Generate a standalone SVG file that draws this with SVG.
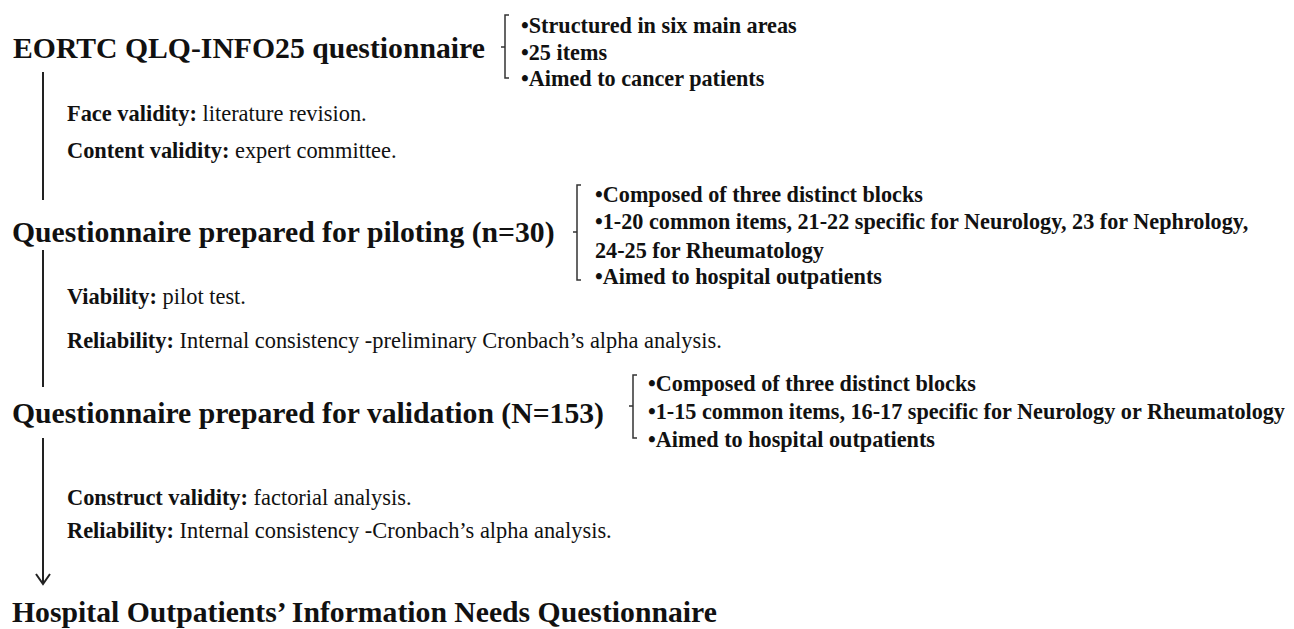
<svg xmlns="http://www.w3.org/2000/svg" width="1294" height="629" viewBox="0 0 1294 629">
<style>
.title{font-family:"Liberation Serif","Times New Roman",serif;font-weight:bold;font-size:29.7px;fill:#111}
.step{font-family:"Liberation Serif","Times New Roman",serif;font-size:22.4px;fill:#111}
.step .b{font-weight:bold}
.bul{font-family:"Liberation Serif","Times New Roman",serif;font-weight:bold;font-size:22.2px;fill:#111}
.br{fill:none;stroke:#333;stroke-width:1.5}
.flow{fill:none;stroke:#222;stroke-width:2}
</style>
<defs>
<marker id="arr" markerWidth="16" markerHeight="16" refX="14" refY="8" orient="auto" markerUnits="userSpaceOnUse" viewBox="0 0 16 16">
<path d="M4,1 L14,8 L4,15" fill="none" stroke="#222" stroke-width="2"/>
</marker>
</defs>
<g id="connectors">
<line class="flow" x1="43" y1="72" x2="43" y2="200"/>
<line class="flow" x1="43" y1="250" x2="43" y2="387"/>
<line class="flow" x1="43" y1="438" x2="43" y2="584" marker-end="url(#arr)"/>
</g>
<g id="node-eortc">
<text class="title" x="13" y="58">EORTC QLQ-INFO25 questionnaire</text>
<path class="br" d="M509,15 H505 V78 H509 M505,47 H501"/>
<text class="bul" x="521" y="33">•Structured in six main areas</text>
<text class="bul" x="521" y="60">•25 items</text>
<text class="bul" x="521" y="86">•Aimed to cancer patients</text>
</g>
<g id="step-1">
<text class="step" x="67" y="121"><tspan class="b">Face validity:</tspan> literature revision.</text>
<text class="step" x="67" y="158"><tspan class="b">Content validity:</tspan> expert committee.</text>
</g>
<g id="node-piloting">
<text class="title" x="12" y="242">Questionnaire prepared for piloting (n=30)</text>
<path class="br" d="M581,185 H577 V280 H581 M577,232 H573"/>
<text class="bul" x="595" y="202">•Composed of three distinct blocks</text>
<text class="bul" x="595" y="229">•1-20 common items, 21-22 specific for Neurology, 23 for Nephrology,</text>
<text class="bul" x="595" y="258">24-25 for Rheumatology</text>
<text class="bul" x="595" y="284">•Aimed to hospital outpatients</text>
</g>
<g id="step-2">
<text class="step" x="67" y="304"><tspan class="b">Viability:</tspan> pilot test.</text>
<text class="step" x="67" y="348"><tspan class="b">Reliability:</tspan> Internal consistency -preliminary Cronbach’s alpha analysis.</text>
</g>
<g id="node-validation">
<text class="title" x="12" y="423">Questionnaire prepared for validation (N=153)</text>
<path class="br" d="M637,375 H633 V438 H637 M633,406 H629"/>
<text class="bul" x="648" y="391">•Composed of three distinct blocks</text>
<text class="bul" x="648" y="419">•1-15 common items, 16-17 specific for Neurology or Rheumatology</text>
<text class="bul" x="648" y="447">•Aimed to hospital outpatients</text>
</g>
<g id="step-3">
<text class="step" x="67" y="505"><tspan class="b">Construct validity:</tspan> factorial analysis.</text>
<text class="step" x="67" y="538"><tspan class="b">Reliability:</tspan> Internal consistency -Cronbach’s alpha analysis.</text>
</g>
<g id="node-final">
<text class="title" x="12" y="622">Hospital Outpatients’ Information Needs Questionnaire</text>
</g>
</svg>
